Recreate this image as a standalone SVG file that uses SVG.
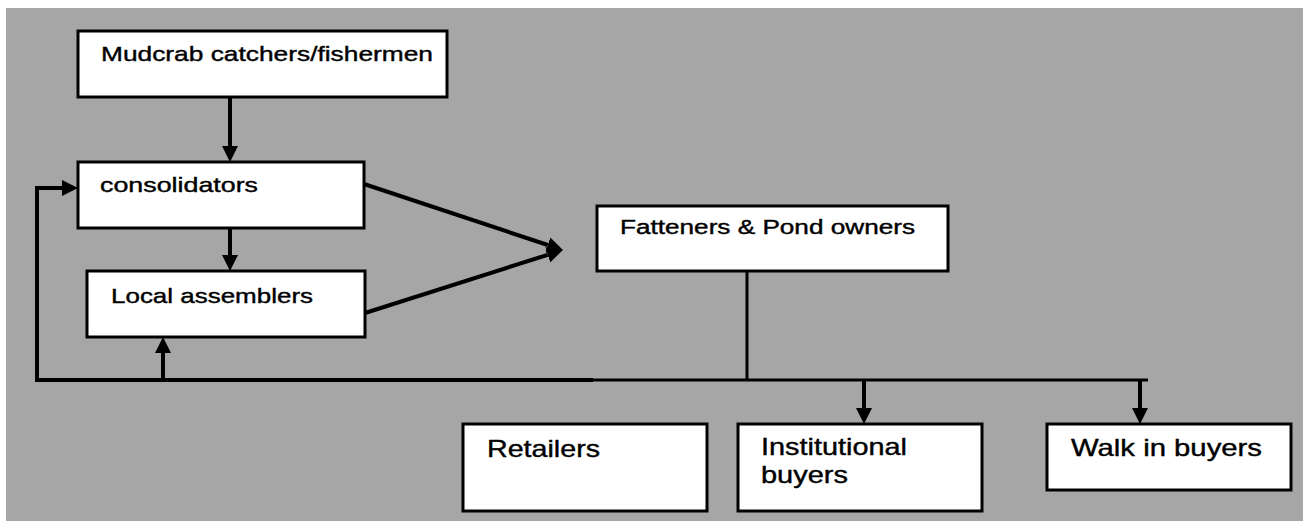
<svg xmlns="http://www.w3.org/2000/svg" width="1303" height="521" viewBox="0 0 1303 521">
<style>
.node rect{fill:#ffffff;stroke:#000000;stroke-width:3}
.node text{font-family:"Liberation Sans",Arial,sans-serif;fill:#000000;stroke:#000000;stroke-width:0.4}
.conn{fill:none;stroke:#000000}
.thick{stroke-width:4}
.thin{stroke-width:3}
</style>
<defs>
<marker id="ah" markerUnits="userSpaceOnUse" markerWidth="17" markerHeight="17" refX="0" refY="8" orient="auto" viewBox="0 0 17 17">
<path d="M0,0 L16,8 L0,16 z" fill="#000000"/>
</marker>
</defs>
<rect x="0" y="0" width="1303" height="521" fill="#ffffff"/>
<rect x="6" y="8" width="1297" height="513" fill="#a6a6a6"/>
<g id="connectors">
<line class="conn thick" x1="230" y1="97" x2="230" y2="146" marker-end="url(#ah)"/>
<line class="conn thick" x1="230" y1="228" x2="230" y2="255" marker-end="url(#ah)"/>
<line class="conn thick" x1="364" y1="184" x2="547.8" y2="245" marker-end="url(#ah)"/>
<line class="conn thick" x1="365" y1="313" x2="547.7" y2="254.8" marker-end="url(#ah)"/>
<path class="conn thick" d="M37,380 V188 H62" marker-end="url(#ah)"/>
<line class="conn thick" x1="163" y1="380" x2="163" y2="353" marker-end="url(#ah)"/>
<line class="conn thick" x1="35" y1="380" x2="593" y2="380"/>
<line class="conn thin" x1="593" y1="380" x2="1148" y2="380"/>
<line class="conn thin" x1="747" y1="271" x2="747" y2="380"/>
<line class="conn thick" x1="864" y1="380" x2="864" y2="408" marker-end="url(#ah)"/>
<line class="conn thick" x1="1140" y1="380" x2="1140" y2="408" marker-end="url(#ah)"/>
</g>
<g id="mudcrab" class="node">
<rect x="78" y="31" width="369" height="66"/>
<text x="101" y="61" font-size="21" textLength="332" lengthAdjust="spacingAndGlyphs">Mudcrab catchers/fishermen</text>
</g>
<g id="consolidators" class="node">
<rect x="78" y="162" width="286" height="66"/>
<text x="100" y="192" font-size="21" textLength="158" lengthAdjust="spacingAndGlyphs">consolidators</text>
</g>
<g id="local-assemblers" class="node">
<rect x="87" y="271" width="278" height="66"/>
<text x="111" y="303" font-size="21" textLength="202" lengthAdjust="spacingAndGlyphs">Local assemblers</text>
</g>
<g id="fatteners" class="node">
<rect x="597" y="206" width="351" height="65"/>
<text x="620" y="234" font-size="20" textLength="295" lengthAdjust="spacingAndGlyphs">Fatteners &amp; Pond owners</text>
</g>
<g id="retailers" class="node">
<rect x="463" y="424" width="244" height="87"/>
<text x="487" y="457" font-size="24" textLength="113" lengthAdjust="spacingAndGlyphs">Retailers</text>
</g>
<g id="institutional" class="node">
<rect x="738" y="424" width="244" height="87"/>
<text x="761" y="455" font-size="24" textLength="146" lengthAdjust="spacingAndGlyphs">Institutional</text>
<text x="761" y="483" font-size="24" textLength="87" lengthAdjust="spacingAndGlyphs">buyers</text>
</g>
<g id="walk-in" class="node">
<rect x="1047" y="424" width="244" height="66"/>
<text x="1071" y="456" font-size="24" textLength="191" lengthAdjust="spacingAndGlyphs">Walk in buyers</text>
</g>
</svg>
